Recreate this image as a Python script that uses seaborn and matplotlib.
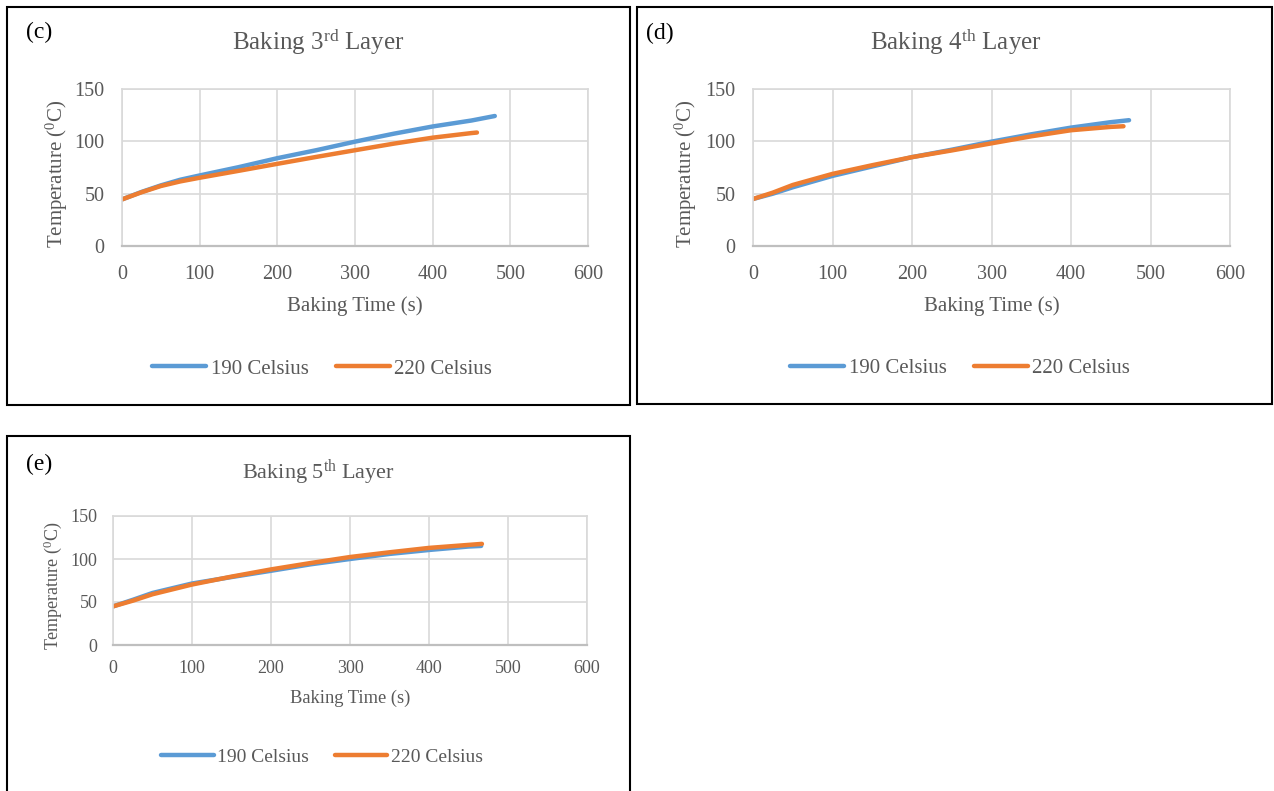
import pandas as pd
import matplotlib.pyplot as plt
from matplotlib.patches import Rectangle
import seaborn as sns

W, H = 1274, 791

SERIES = ["190 Celsius", "220 Celsius"]
COLORS = ["#5B9BD5", "#ED7D31"]
X_TICKS = [0, 100, 200, 300, 400, 500, 600]
Y_TICKS = [0, 50, 100, 150]

# (c) 3rd layer
C_T190 = [0, 25, 50, 75, 100, 150, 200, 250, 300, 350, 400, 450, 480]
C_Y190 = [44.5, 51.6, 57.9, 63.3, 67.4, 75.3, 83.9, 91.5, 99.7, 107.3, 114.2, 119.9, 124.2]
C_T220 = [0, 25, 50, 75, 100, 150, 200, 250, 300, 350, 400, 450, 457]
C_Y220 = [44.5, 51.3, 57.3, 61.7, 65.2, 71.8, 78.5, 85.1, 91.5, 97.8, 103.5, 107.9, 108.4]

# (d) 4th layer
D_T190 = [0, 25, 50, 100, 150, 200, 250, 300, 350, 400, 450, 473]
D_Y190 = [44.9, 50.0, 56.1, 67.0, 76.0, 84.9, 92.0, 99.7, 106.7, 113.1, 118.3, 120.2]
D_T220 = [0, 25, 50, 100, 150, 200, 250, 300, 350, 400, 450, 466]
D_Y220 = [44.9, 51.0, 58.3, 68.9, 77.2, 84.9, 91.3, 98.1, 104.8, 110.6, 113.8, 114.4]

# (e) 5th layer
E_T190 = [0, 25, 50, 100, 150, 200, 250, 300, 350, 400, 450, 466]
E_Y190 = [44.9, 52.5, 60.5, 71.5, 79.0, 86.3, 93.8, 100.0, 105.9, 110.5, 114.5, 115.2]
E_T220 = [0, 25, 50, 100, 150, 200, 250, 300, 350, 400, 450, 467]
E_Y220 = [44.9, 51.5, 59.0, 70.3, 79.5, 87.9, 95.3, 102.3, 107.8, 112.9, 116.4, 117.6]

sns.set_theme(style="whitegrid")
plt.rcParams.update({
    "font.family": ["Liberation Serif", "DejaVu Serif"],
    "mathtext.fontset": "custom",
    "mathtext.rm": "Liberation Serif",
    "mathtext.default": "regular",
    "axes.facecolor": "white",
    "grid.color": "#D9D9D9",
    "grid.linewidth": 1.2,
    "text.color": "#595959",
})

TXT = "#595959"


def px_box(x0, y0, x1, y1):
    return [x0 / W, 1 - y1 / H, (x1 - x0) / W, (y1 - y0) / H]


def long_df(t190, y190, t220, y220):
    a = pd.DataFrame({"t": t190, "T": y190, "s": SERIES[0]})
    b = pd.DataFrame({"t": t220, "T": y220, "s": SERIES[1]})
    return pd.concat([a, b], ignore_index=True)


def panel(fig, frame, axes_px, tag, tag_xy, title, title_xy, df, fs, tick_pad,
          ylab_x, xlab_y, leg_xy, handlelen):
    fig.patches.append(Rectangle((frame[0], frame[1]), frame[2], frame[3],
                                 transform=fig.transFigure, fill=False,
                                 edgecolor="black", linewidth=1.5))
    ax = fig.add_axes(px_box(*axes_px))
    sns.lineplot(data=df, x="t", y="T", hue="s", palette=COLORS, ax=ax,
                 linewidth=3.2, solid_capstyle="round", estimator=None,
                 sort=False)
    ax.set_xlim(0, 600)
    ax.set_ylim(0, 150)
    ax.set_xticks(X_TICKS)
    ax.set_yticks(Y_TICKS)
    ax.grid(True, color="#D9D9D9", linewidth=1.2)
    for side in ["left", "top", "right"]:
        ax.spines[side].set_color("#D9D9D9")
        ax.spines[side].set_linewidth(1.2)
    ax.spines["bottom"].set_color("#BFBFBF")
    ax.spines["bottom"].set_linewidth(1.6)
    ax.tick_params(axis="both", length=0, labelsize=fs["tick"], labelcolor=TXT)
    ax.tick_params(axis="x", pad=tick_pad[0])
    ax.tick_params(axis="y", pad=tick_pad[1])

    ax.set_xlabel("Baking Time (s)", fontsize=fs["label"], color=TXT)
    ax.set_ylabel("Temperature ($^{0}$C)", fontsize=fs["ylabel"], color=TXT)
    ax.xaxis.set_label_coords(0.5, xlab_y)
    ax.yaxis.set_label_coords(ylab_x, 0.46)

    sns.move_legend(ax, loc="center", bbox_to_anchor=(leg_xy[0] / W, 1 - leg_xy[1] / H),
                    bbox_transform=fig.transFigure, ncol=2, frameon=False,
                    title=None, fontsize=fs["legend"], handlelength=handlelen,
                    handletextpad=0.2, columnspacing=1.3)
    for t in ax.get_legend().get_texts():
        t.set_color(TXT)
    for ln in ax.get_legend().get_lines():
        ln.set_linewidth(3.2)

    fig.text(tag_xy[0] / W, 1 - tag_xy[1] / H, tag, fontsize=fs["tag"],
             color="black", ha="left", va="baseline")
    fig.text(title_xy[0] / W, 1 - title_xy[1] / H, title, fontsize=fs["title"],
             color=TXT, ha="center", va="baseline")
    return ax


fig = plt.figure(figsize=(W / 100, H / 100), dpi=100)
fig.patch.set_facecolor("white")

big = {"tick": 14.5, "label": 15, "ylabel": 15, "legend": 15, "title": 18, "tag": 17}
small = {"tick": 13, "label": 13.3, "ylabel": 13, "legend": 14, "title": 16, "tag": 17}

panel(fig, px_box(7, 7, 630, 405), (122, 89, 588, 246), "(c)", (26, 38),
      "Baking 3$^{rd}$ Layer", (318, 50),
      long_df(C_T190, C_Y190, C_T220, C_Y220), big, (14, 12.5),
      -0.112, -0.322, (322, 369), 2.6)

panel(fig, px_box(637, 7, 1272, 404), (753, 89, 1230, 246), "(d)", (646, 39),
      "Baking 4$^{th}$ Layer", (956, 50),
      long_df(D_T190, D_Y190, D_T220, D_Y220), big, (14, 12.5),
      -0.113, -0.322, (960, 368), 2.6)

panel(fig, px_box(7, 436, 630, 800), (113, 516, 587, 645), "(e)", (26, 470),
      "Baking 5$^{th}$ Layer", (318, 479),
      long_df(E_T190, E_Y190, E_T220, E_Y220), small, (11, 11),
      -0.103, -0.349, (322, 757), 2.7)

fig.savefig("out.png", dpi=100, facecolor="white")
